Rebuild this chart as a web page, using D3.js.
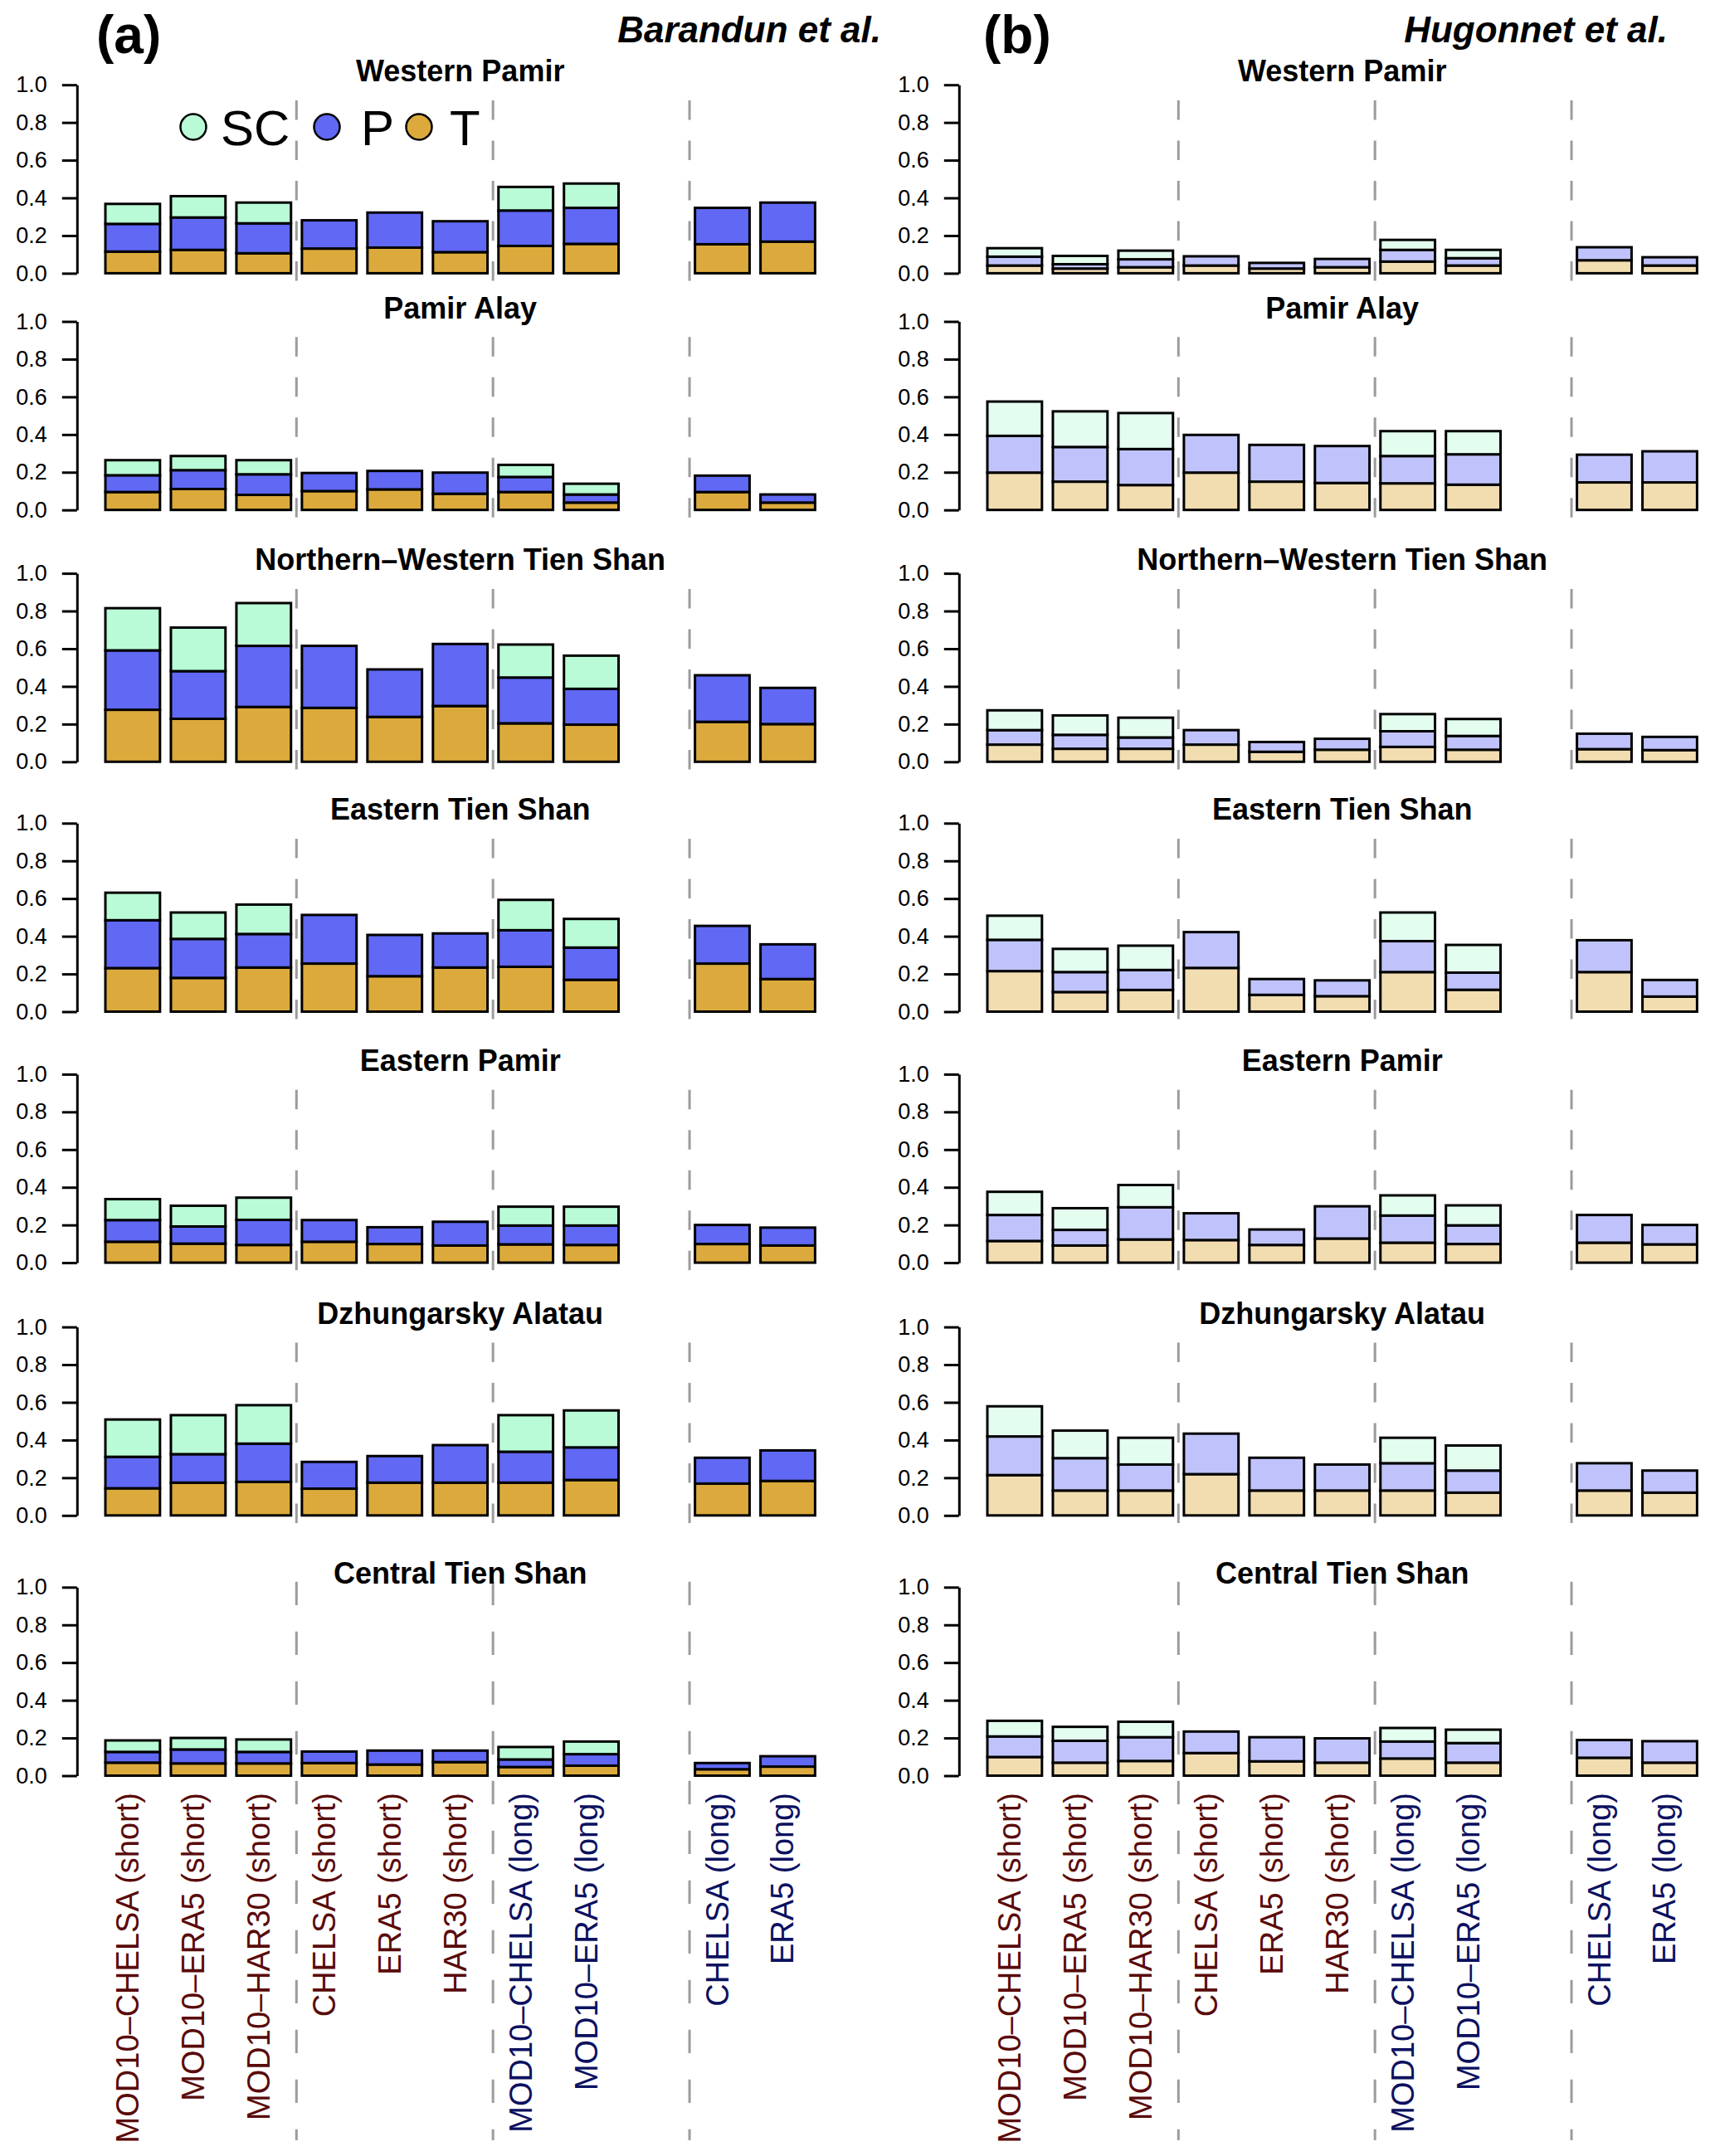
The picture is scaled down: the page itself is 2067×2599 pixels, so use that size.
<!DOCTYPE html>
<html>
<head>
<meta charset="utf-8">
<script src="https://cdn.jsdelivr.net/npm/d3@7"></script>
<style>
  body { margin: 0; background: #ffffff; }
  svg { display: block; }
</style>
</head>
<body>
<svg id="chart" width="2067" height="2599"></svg>
<script>
// ---------------- DATA ----------------
const regions = ["Western Pamir", "Pamir Alay", "Northern\u2013Western Tien Shan", "Eastern Tien Shan",
                 "Eastern Pamir", "Dzhungarsky Alatau", "Central Tien Shan"];
const categories = ["MOD10\u2013CHELSA (short)", "MOD10\u2013ERA5 (short)", "MOD10\u2013HAR30 (short)",
                    "CHELSA (short)", "ERA5 (short)", "HAR30 (short)",
                    "MOD10\u2013CHELSA (long)", "MOD10\u2013ERA5 (long)", "CHELSA (long)", "ERA5 (long)"];
const barSlots = [0, 1, 2, 3, 4, 5, 6, 7, 9, 10];
const separators = [3.7, 7.3, 10.9];
const yTicks = [0, 0.2, 0.4, 0.6, 0.8, 1.0];
const legendKeys = ["SC", "P", "T"];
const studies = ["Barandun et al.", "Hugonnet et al."];
const panelTags = ["(a)", "(b)"];

// cumulative stack levels: top of T, top of T+P, top of T+P+SC (null = no SC)
const barandunT = [
  [0.115, 0.124, 0.106, 0.131, 0.136, 0.112, 0.145, 0.156, 0.154, 0.168],
  [0.095, 0.111, 0.080, 0.100, 0.109, 0.086, 0.095, 0.039, 0.095, 0.039],
  [0.276, 0.228, 0.291, 0.286, 0.238, 0.296, 0.204, 0.197, 0.212, 0.200],
  [0.231, 0.179, 0.234, 0.255, 0.188, 0.234, 0.238, 0.169, 0.255, 0.173],
  [0.111, 0.101, 0.094, 0.111, 0.099, 0.091, 0.097, 0.094, 0.099, 0.091],
  [0.144, 0.174, 0.178, 0.142, 0.174, 0.174, 0.174, 0.188, 0.169, 0.183],
  [0.069, 0.065, 0.065, 0.067, 0.059, 0.072, 0.046, 0.053, 0.034, 0.048]
];
const barandunTP = [
  [0.262, 0.296, 0.265, 0.281, 0.322, 0.276, 0.333, 0.347, 0.347, 0.375],
  [0.184, 0.211, 0.189, 0.196, 0.207, 0.198, 0.175, 0.082, 0.182, 0.082],
  [0.591, 0.481, 0.615, 0.615, 0.490, 0.625, 0.447, 0.387, 0.459, 0.392],
  [0.485, 0.386, 0.412, 0.513, 0.407, 0.415, 0.432, 0.340, 0.455, 0.357],
  [0.226, 0.192, 0.227, 0.226, 0.188, 0.217, 0.197, 0.197, 0.200, 0.186],
  [0.311, 0.325, 0.381, 0.284, 0.315, 0.373, 0.338, 0.361, 0.306, 0.345],
  [0.126, 0.139, 0.126, 0.128, 0.133, 0.133, 0.086, 0.114, 0.067, 0.103]
];
const barandunTotal = [
  [0.368, 0.409, 0.375, null, null, null, 0.458, 0.476, null, null],
  [0.264, 0.286, 0.264, null, null, null, 0.239, 0.139, null, null],
  [0.815, 0.712, 0.842, null, null, null, 0.622, 0.563, null, null],
  [0.631, 0.526, 0.568, null, null, null, 0.593, 0.492, null, null],
  [0.337, 0.302, 0.345, null, null, null, 0.297, 0.297, null, null],
  [0.509, 0.532, 0.585, null, null, null, 0.532, 0.557, null, null],
  [0.187, 0.200, 0.192, null, null, null, 0.152, 0.181, null, null]
];
const hugonnetT = [
  [0.041, 0.025, 0.032, 0.041, 0.025, 0.032, 0.062, 0.041, 0.069, 0.041],
  [0.198, 0.150, 0.132, 0.198, 0.150, 0.143, 0.141, 0.134, 0.146, 0.146],
  [0.091, 0.069, 0.069, 0.091, 0.053, 0.064, 0.079, 0.064, 0.067, 0.062],
  [0.215, 0.104, 0.115, 0.232, 0.089, 0.082, 0.210, 0.116, 0.210, 0.080],
  [0.115, 0.091, 0.123, 0.120, 0.094, 0.128, 0.106, 0.099, 0.106, 0.097],
  [0.214, 0.132, 0.132, 0.219, 0.132, 0.132, 0.132, 0.121, 0.132, 0.121],
  [0.099, 0.069, 0.078, 0.120, 0.076, 0.069, 0.091, 0.069, 0.095, 0.069]
];
const hugonnetTP = [
  [0.088, 0.048, 0.074, 0.090, 0.055, 0.076, 0.124, 0.080, 0.138, 0.085],
  [0.393, 0.334, 0.323, 0.398, 0.345, 0.339, 0.286, 0.295, 0.293, 0.311],
  [0.168, 0.143, 0.129, 0.168, 0.105, 0.122, 0.162, 0.137, 0.149, 0.132],
  [0.381, 0.210, 0.221, 0.422, 0.173, 0.166, 0.374, 0.207, 0.379, 0.168],
  [0.253, 0.174, 0.294, 0.262, 0.176, 0.299, 0.250, 0.198, 0.253, 0.200],
  [0.419, 0.304, 0.270, 0.434, 0.306, 0.270, 0.277, 0.238, 0.277, 0.238],
  [0.208, 0.185, 0.204, 0.234, 0.204, 0.198, 0.181, 0.173, 0.189, 0.183]
];
const hugonnetTotal = [
  [0.133, 0.092, 0.120, null, null, null, 0.177, 0.124, null, null],
  [0.575, 0.523, 0.514, null, null, null, 0.418, 0.418, null, null],
  [0.273, 0.246, 0.234, null, null, null, 0.253, 0.227, null, null],
  [0.509, 0.333, 0.350, null, null, null, 0.526, 0.354, null, null],
  [0.376, 0.289, 0.412, null, null, null, 0.357, 0.304, null, null],
  [0.579, 0.450, 0.412, null, null, null, 0.412, 0.371, null, null],
  [0.291, 0.259, 0.286, null, null, null, 0.253, 0.244, null, null]
];

// ---------------- LAYOUT / STYLE ----------------
const FONT = "'Liberation Sans', Arial, Helvetica, sans-serif";
const baselines = [329.4, 614.7, 918.3, 1219.5, 1522.1, 1826.8, 2140.5];
const unitH = 227.2;
const panelOffsets = [0, 1063];
const colors = [
  { T: "#dcaa3c", P: "#6068f4", SC: "#b9fbd6" },
  { T: "#f2ddb1", P: "#c0c3fb", SC: "#e3fdef" }
];
const labelShort = "#5a0a0a", labelLong = "#0c1160";

const svg = d3.select("#chart");
svg.append("rect").attr("width", 2067).attr("height", 2599).attr("fill", "#fff");

const studyData = [
  { T: barandunT, TP: barandunTP, Tot: barandunTotal },
  { T: hugonnetT, TP: hugonnetTP, Tot: hugonnetTotal }
];

studyData.forEach((sd, s) => {
  const off = panelOffsets[s];
  const x = d3.scaleLinear().domain([-0.32, 13.72]).range([92.8 + off, 1016.6 + off]);
  const col = colors[s];

  // panel tag and study name
  svg.append("text").attr("x", 116 + off + (s ? 6 : 0)).attr("y", 64)
    .attr("font-family", FONT).attr("font-weight", "bold").attr("font-size", 64)
    .text(panelTags[s]);
  svg.append("text").attr("x", s ? 2010 : 1062).attr("y", 51).attr("text-anchor", "end")
    .attr("font-family", FONT).attr("font-weight", "bold").attr("font-style", "italic")
    .attr("font-size", 44).text(studies[s]);

  regions.forEach((reg, r) => {
    const base = baselines[r];
    const y = d3.scaleLinear().domain([0, 1]).range([base, base - unitH]);
    const g = svg.append("g");
    const last = r === regions.length - 1;

    // dashed separators
    separators.forEach(sv => {
      const yTop = last ? 1906.7 : y(0.95);
      const yBot = last ? 2580 : y(-0.04);
      g.append("path")
        .attr("d", last ? `M${x(sv)},${yTop}L${x(sv)},${yBot}` : `M${x(sv)},${yBot}L${x(sv)},${yTop}`)
        .attr("stroke", "#9c9c9c").attr("stroke-width", 3)
        .attr("stroke-dasharray", last ? "28.3,31.7" : "23.5,25")
        .attr("fill", "none");
    });

    // title
    g.append("text").attr("x", (x.range()[0] + x.range()[1]) / 2).attr("y", y(1) - 4)
      .attr("text-anchor", "middle").attr("font-family", FONT).attr("font-weight", "bold")
      .attr("font-size", 36).text(reg);

    // y axis
    const ax = g.append("g").attr("transform", `translate(${x(-0.32)},0)`)
      .call(d3.axisLeft(y).tickValues(yTicks).tickFormat(d3.format(".1f"))
        .tickSize(18).tickSizeOuter(0).tickPadding(18));
    ax.select(".domain").attr("stroke", "#000").attr("stroke-width", 3);
    ax.selectAll(".tick line").attr("stroke", "#000").attr("stroke-width", 3);
    ax.selectAll(".tick text").attr("font-family", FONT).attr("font-size", 27).attr("fill", "#000");

    // bars
    categories.forEach((c, i) => {
      const left = 0.2 + 1.2 * barSlots[i];
      const segs = [
        { lo: 0, hi: sd.T[r][i], fill: col.T },
        { lo: sd.T[r][i], hi: sd.TP[r][i], fill: col.P }
      ];
      if (sd.Tot[r][i] != null) segs.push({ lo: sd.TP[r][i], hi: sd.Tot[r][i], fill: col.SC });
      segs.forEach(sg => {
        g.append("rect")
          .attr("x", x(left)).attr("width", x(left + 1) - x(left))
          .attr("y", y(sg.hi)).attr("height", y(sg.lo) - y(sg.hi))
          .attr("fill", sg.fill).attr("stroke", "#000").attr("stroke-width", 3);
      });
    });

    // x labels on bottom panel
    if (last) {
      categories.forEach((c, i) => {
        const cx = x(0.2 + 1.2 * barSlots[i] + 0.5) + 7;
        g.append("text").attr("transform", `translate(${cx},2161) rotate(-90)`)
          .attr("text-anchor", "end").attr("font-family", FONT).attr("font-size", 38)
          .attr("fill", c.includes("(short)") ? labelShort : labelLong)
          .text(c);
      });
    }

    // legend
    if (s === 0 && r === 0) {
      const lx = [233, 394, 505], tx = [266, 435, 542];
      legendKeys.forEach((k, j) => {
        g.append("circle").attr("cx", lx[j]).attr("cy", 153).attr("r", 15.5)
          .attr("fill", col[k]).attr("stroke", "#000").attr("stroke-width", 2.5);
        g.append("text").attr("x", tx[j]).attr("y", 175).attr("font-family", FONT)
          .attr("font-size", 60).text(k);
      });
    }
  });
});
</script>
</body>
</html>
